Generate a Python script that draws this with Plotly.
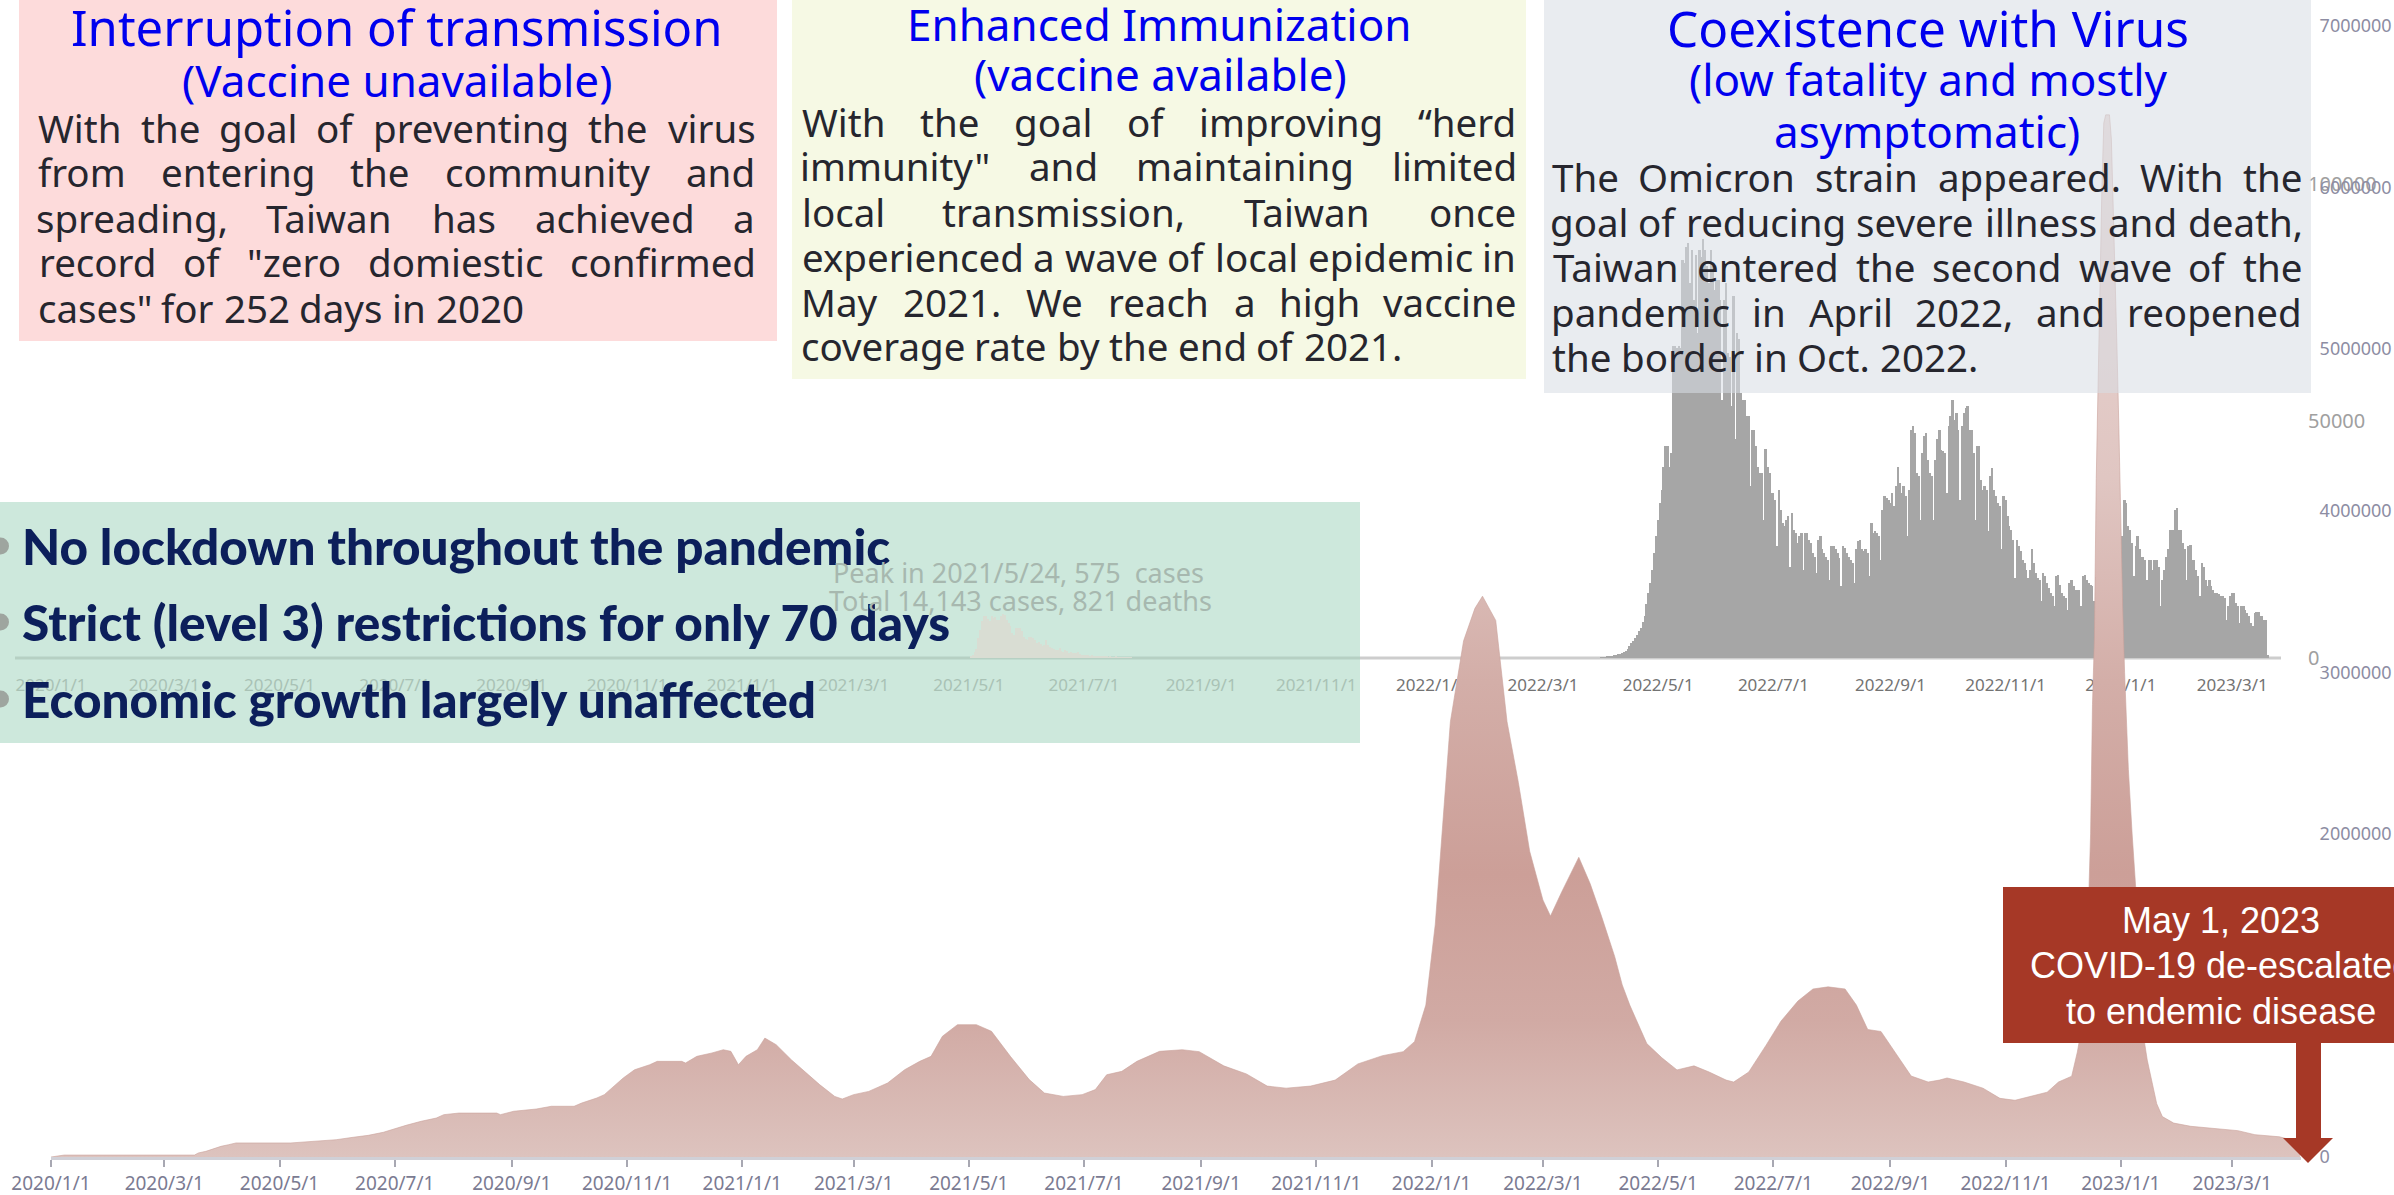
import pandas as pd
import plotly.graph_objects as go

# page geometry (pixels) -> paper coordinates for the decorations
FIG_W, FIG_H = 2394, 1195
M_L, M_R, M_T, M_B = 15, 93, 26, 38
PLOT_W = FIG_W - M_L - M_R
PLOT_H = FIG_H - M_T - M_B


def px_x(x):
    return (x - M_L) / PLOT_W


def px_y(y):
    return (FIG_H - M_B - y) / PLOT_H


# ---------------- data ----------------
# global new cases (7-day average, millions), days after 2020-01-01
global_day = [0, 7, 76, 78, 82, 86, 90, 94, 98, 127, 139, 151, 160, 168, 176, 182, 188, 196, 204, 208,
              216, 236, 238, 245, 250, 257, 265, 277, 281, 289, 293, 297, 303, 309, 317, 321, 334, 336,
              342, 350, 356, 360, 364, 368, 374, 378, 384, 392, 401, 407, 415, 419, 425, 433, 443, 452,
              460, 466, 472, 480, 490, 498, 508, 518, 526, 536, 546, 553, 559, 567, 575, 587, 599, 608,
              621, 633, 644, 654, 667, 680, 692, 705, 716, 722, 728, 733, 737, 741, 748, 754, 758, 765,
              771, 777, 783, 790, 794, 800, 809, 815, 821, 828, 832, 836, 845, 853, 861, 870, 878, 887,
              891, 899, 908, 916, 925, 933, 941, 950, 956, 962, 969, 977, 985, 994, 1000, 1004, 1013,
              1023, 1032, 1040, 1049, 1057, 1063, 1070, 1073, 1076, 1078, 1080, 1081, 1082, 1083, 1084,
              1085, 1086, 1087, 1088, 1090, 1091, 1092, 1093, 1094, 1095, 1096, 1097, 1098, 1100, 1102,
              1104, 1106, 1108, 1110, 1112, 1115, 1118, 1124, 1133, 1146, 1158, 1167, 1180, 1188, 1191]
global_cases_m = [0.0, 0.012, 0.012, 0.025, 0.035, 0.05, 0.066, 0.076, 0.087, 0.087, 0.097, 0.107, 0.122,
                  0.134, 0.153, 0.175, 0.196, 0.221, 0.241, 0.262, 0.272, 0.272, 0.262, 0.283, 0.287,
                  0.297, 0.314, 0.314, 0.334, 0.365, 0.386, 0.427, 0.489, 0.540, 0.571, 0.592, 0.592,
                  0.582, 0.623, 0.644, 0.664, 0.654, 0.571, 0.623, 0.664, 0.736, 0.695, 0.602, 0.509,
                  0.448, 0.375, 0.359, 0.386, 0.406, 0.458, 0.540, 0.592, 0.623, 0.747, 0.819, 0.819,
                  0.778, 0.623, 0.479, 0.396, 0.375, 0.386, 0.417, 0.509, 0.530, 0.592, 0.654, 0.664,
                  0.652, 0.564, 0.514, 0.439, 0.426, 0.439, 0.476, 0.576, 0.627, 0.652, 0.714, 0.940,
                  1.441, 2.068, 2.694, 3.195, 3.396, 3.471, 3.321, 2.694, 2.318, 1.892, 1.591, 1.491,
                  1.642, 1.855, 1.692, 1.491, 1.241, 1.065, 0.940, 0.702, 0.614, 0.539, 0.564, 0.526,
                  0.476, 0.464, 0.526, 0.689, 0.840, 0.965, 1.040, 1.053, 1.040, 0.940, 0.789, 0.777,
                  0.639, 0.501, 0.464, 0.476, 0.489, 0.464, 0.426, 0.363, 0.351, 0.376, 0.401, 0.464,
                  0.50, 0.65, 0.85, 1.2, 2.0, 2.8, 3.2, 4.2, 4.9, 5.4, 6.0, 6.4, 6.45, 6.45, 6.3, 5.9,
                  5.4, 5.0, 4.5, 3.9, 3.4, 3.0, 2.4, 2.0, 1.65, 1.2, 0.75, 0.6, 0.5, 0.33, 0.25, 0.21,
                  0.19, 0.175, 0.163, 0.138, 0.125, 0.10, 0.09]

# Taiwan daily confirmed cases (thousands), one value per day from tw_start
tw_start = "2022-04-01"
tw_cases_k = [
    0.1, 0.15, 0.2, 0.25, 0.3, 0.35, 0.45,
    0.55, 0.7, 0.8, 0.9, 1.05, 1.2, 1.4,
    1.8, 2.5, 3.2, 3.5, 4.2, 4.9, 5.6,
    6.3, 7.7, 8.8, 11.3, 13.7, 15.8, 18.6,
    22.2, 25.7, 29.2, 32.7, 35.5, 40.4, 44.7,
    44.7, 40.4, 43.2, 65.8, 65.8, 65.4, 65.8,
    65.4, 84.0, 83.3, 86.8, 87.6, 79.1, 86.1,
    75.6, 85.0, 68.6, 86.1, 84.7, 88.3, 86.1,
    82.6, 79.1, 86.1, 82.6, 77.7, 79.8, 79.8,
    75.6, 54.5, 75.6, 79.1, 64.3, 63.6, 53.1,
    76.3, 46.1, 68.6, 67.2, 55.9, 54.5, 54.5,
    51.0, 51.0, 36.2, 48.2, 48.2, 44.7, 40.4,
    39.0, 39.0, 29.2, 44.0, 40.4, 39.0, 34.8,
    34.8, 33.4, 23.6, 35.5, 31.3, 28.5, 27.8,
    29.2, 29.9, 19.3, 30.6, 27.1, 26.4, 24.3,
    25.7, 26.4, 18.6, 26.4, 26.4, 25.0, 24.3,
    22.2, 21.4, 17.9, 25.0, 25.7, 22.9, 22.2,
    21.4, 20.7, 16.5, 23.6, 23.6, 22.9, 22.2,
    21.1, 15.1, 23.6, 23.2, 22.2, 21.4, 20.7,
    20.0, 15.8, 22.9, 24.6, 25.0, 22.9, 22.5,
    22.9, 22.2, 17.2, 28.5, 26.4, 26.7, 26.4,
    25.7, 20.7, 31.3, 34.1, 33.8, 33.4, 32.7,
    34.8, 32.0, 36.2, 40.4, 36.9, 34.8, 36.2,
    34.1, 25.7, 35.5, 48.2, 48.9, 47.5, 39.0,
    38.3, 29.2, 43.2, 46.8, 47.5, 41.8, 39.0,
    38.3, 29.2, 41.8, 46.1, 48.2, 43.9, 43.6,
    43.2, 34.8, 48.9, 51.0, 54.5, 50.3, 51.7,
    48.2, 33.4, 48.9, 51.7, 52.7, 53.1, 48.2,
    48.2, 43.2, 29.2, 44.7, 44.7, 37.6, 35.5,
    36.2, 35.5, 26.7, 38.3, 40.1, 35.5, 34.1,
    32.7, 32.0, 22.9, 34.1, 33.4, 29.9, 27.8,
    27.1, 25.0, 16.9, 25.0, 23.6, 22.5, 20.7,
    20.0, 18.6, 16.9, 18.6, 22.9, 20.0, 17.9,
    16.9, 16.5, 12.0, 17.9, 17.2, 15.8, 14.8,
    13.7, 13.0, 10.9, 17.2, 17.6, 15.5, 13.7,
    13.0, 12.7, 10.2, 15.8, 16.5, 15.1, 14.4,
    14.4, 14.4, 10.9, 17.2, 17.6, 16.5, 15.8,
    15.5, 15.1, 12.0, 17.0, 17.5, 18.0, 18.5,
    18.5, 19.0, 13.0, 19.0, 20.0, 20.5, 21.0,
    21.5, 22.0, 24.3, 25.7, 33.4, 32.7, 27.8,
    27.1, 24.3, 17.2, 23.6, 25.7, 22.9, 21.4,
    21.4, 20.7, 16.5, 20.7, 20.7, 18.6, 20.7,
    20.7, 19.3, 10.9, 16.5, 18.6, 21.4, 22.9,
    27.1, 27.1, 27.1, 31.3, 31.6, 27.1, 27.1,
    24.3, 22.9, 16.5, 23.6, 23.9, 20.7, 20.7,
    18.6, 17.2, 13.0, 20.0, 19.3, 16.5, 15.1,
    16.5, 15.1, 14.4, 13.7, 13.7, 13.4, 13.0,
    13.0, 12.7, 8.1, 10.9, 13.0, 13.7, 13.7,
    11.6, 10.9, 7.4, 10.9, 10.9, 10.2, 9.5,
    8.8, 7.4, 6.7, 9.5, 9.8, 9.8, 8.8,
    8.8, 8.1, 8.1, 0.7,
]

# Taiwan 2021 local wave (daily cases, small inset drawn on its own scale)
wave21_start = "2021-05-02"
wave21_cases = [20, 45, 85, 120, 260, 370, 480, 545, 545, 515, 490, 545, 525, 530, 500, 500, 545, 575,
                560, 500, 460, 415, 325, 305, 390, 390, 390, 350, 270, 255, 240, 270, 270, 260, 240,
                195, 210, 185, 155, 175, 240, 175, 140, 130, 120, 110, 110, 130, 95, 85, 110, 95, 65,
                80, 65, 60, 65, 80, 50, 35, 45, 35, 35, 25, 35, 25, 22, 30, 22, 18, 22, 18, 18, 13, 18,
                13, 13, 18, 9, 8, 10, 6, 8, 5, 7, 4]

tick_labels = ["2020/1/1", "2020/3/1", "2020/5/1", "2020/7/1", "2020/9/1", "2020/11/1",
               "2021/1/1", "2021/3/1", "2021/5/1", "2021/7/1", "2021/9/1", "2021/11/1",
               "2022/1/1", "2022/3/1", "2022/5/1", "2022/7/1", "2022/9/1", "2022/11/1",
               "2023/1/1", "2023/3/1"]
global_y_ticks = [0, 1000000, 2000000, 3000000, 4000000, 5000000, 6000000, 7000000]
tw_y_ticks = [0, 50000, 100000]

# ---------------- text ----------------
box1_title = "Interruption of transmission"
box1_sub = "(Vaccine unavailable)"
box1_lines = ["With the goal of preventing the virus",
              "from entering the community and",
              "spreading, Taiwan has achieved a",
              "record of \"zero domiestic confirmed",
              "cases\" for 252 days in 2020"]
box2_title = "Enhanced Immunization"
box2_sub = "(vaccine available)"
box2_lines = ["With the goal of improving “herd",
              "immunity\" and maintaining limited",
              "local transmission, Taiwan once",
              "experienced a wave of local epidemic in",
              "May 2021. We reach a high vaccine",
              "coverage rate by the end of 2021."]
box3_title = "Coexistence with Virus"
box3_sub = ["(low fatality and mostly", "asymptomatic)"]
box3_lines = ["The Omicron strain appeared. With the",
              "goal of reducing severe illness and death,",
              "Taiwan entered the second wave of the",
              "pandemic in April 2022, and reopened",
              "the border in Oct. 2022."]
bullets = ["No lockdown throughout the pandemic",
           "Strict (level 3) restrictions for only 70 days",
           "Economic growth largely unaffected"]
peak_note = ["Peak in 2021/5/24, 575  cases", "Total 14,143 cases, 821 deaths"]
endemic_note = ["May 1, 2023", "COVID-19 de-escalated", "to endemic disease"]

TITLE_BLUE = "#0000ee"
BODY = "#26262e"
NAVY = "#0c1f5b"
RED = "#a63826"

# rough advance widths (em) of Noto Sans, used to justify the paragraphs
CHAR_W = {" ": 0.26, "a": 0.556, "b": 0.613, "c": 0.476, "d": 0.613, "e": 0.561, "f": 0.339,
          "g": 0.548, "h": 0.614, "i": 0.253, "j": 0.253, "k": 0.525, "l": 0.253, "m": 0.930,
          "n": 0.614, "o": 0.604, "p": 0.613, "q": 0.613, "r": 0.408, "s": 0.477, "t": 0.353,
          "u": 0.614, "v": 0.501, "w": 0.778, "x": 0.524, "y": 0.502, "z": 0.462,
          "A": 0.633, "C": 0.631, "M": 0.903, "O": 0.781, "T": 0.544, "W": 0.911,
          ",": 0.245, ".": 0.266, '"': 0.401, "“": 0.344, "(": 0.296, ")": 0.296}


def text_w(s, size):
    return sum(0.572 if c.isdigit() else CHAR_W.get(c, 0.56) for c in s) * size


# ---------------- figure ----------------
tw_dates = pd.date_range(tw_start, periods=len(tw_cases_k), freq="D")
w21_dates = pd.date_range(wave21_start, periods=len(wave21_cases), freq="D")
g_dates = pd.Timestamp("2020-01-01") + pd.to_timedelta(global_day, unit="D")
tick_vals = pd.to_datetime(tick_labels, format="%Y/%m/%d")

fig = go.Figure()

fig.add_trace(go.Bar(x=tw_dates, y=[v * 1000 for v in tw_cases_k], xaxis="x", yaxis="y",
                     marker=dict(color="#a6a6a6", line=dict(width=0)), hoverinfo="skip"))
fig.add_trace(go.Bar(x=w21_dates, y=wave21_cases, xaxis="x", yaxis="y3", width=0.55 * 86400000,
                     marker=dict(color="#d9ddd3", line=dict(width=0)), hoverinfo="skip"))
fig.add_trace(go.Scatter(x=g_dates, y=[v * 1e6 for v in global_cases_m], xaxis="x2", yaxis="y2",
                         mode="lines", line=dict(width=0.6, color="#c9a19b"), fill="tozeroy",
                         fillgradient=dict(type="vertical", start=0, stop=7e6,
                                           colorscale=[[0, "#ddc3be"], [0.12, "#d1aaa4"], [0.25, "#cc9f98"],
                                                       [0.42, "#d3aea8"], [0.6, "#e0c6c2"], [1, "#ecdcd9"]]),
                         hoverinfo="skip"))

inner_ticktext = [t if t >= "2022" else f'<span style="color:#a9c2b5">{t}</span>' for t in tick_labels]

fig.update_layout(
    width=FIG_W, height=FIG_H,
    margin=dict(l=M_L, r=M_R, t=M_T, b=M_B),
    paper_bgcolor="white", plot_bgcolor="rgba(0,0,0,0)",
    showlegend=False, bargap=0, hovermode=False,
    font=dict(family="Noto Sans"),
    xaxis=dict(domain=[0, px_x(2281)], range=["2019-12-12 22:00", "2023-03-26 19:00"], anchor="y",
               showgrid=False, zeroline=False, showline=False, automargin=False,
               tickvals=tick_vals, ticktext=inner_ticktext, ticks="outside", ticklen=12,
               tickcolor="rgba(0,0,0,0)", tickfont=dict(size=17, color="#737373")),
    yaxis=dict(domain=[px_y(658), px_y(184)], range=[0, 100000], anchor="x", side="right",
               showgrid=False, zeroline=False, showline=False, automargin=False,
               tickvals=tw_y_ticks, ticktext=[str(v) for v in tw_y_ticks], ticks="outside", ticklen=22,
               tickcolor="rgba(0,0,0,0)", tickfont=dict(size=20, color="#a0a0a0")),
    yaxis3=dict(overlaying="y", anchor="x", range=[0, 6200], visible=False, automargin=False),
    xaxis2=dict(domain=[px_x(51), 1], range=["2020-01-01", "2023-04-06 10:00"], anchor="y2",
                showgrid=False, zeroline=False, showline=True, linecolor="#d0d0d7", linewidth=3,
                automargin=False,
                tickvals=tick_vals, ticktext=tick_labels, ticks="outside", ticklen=7, tickwidth=1.5,
                tickcolor="#a8a8b2", tickfont=dict(size=19, color="#7b7b92")),
    yaxis2=dict(domain=[0, 1], range=[0, 7000000], anchor="x2", side="right",
                showgrid=False, zeroline=False, showline=False, automargin=False,
                tickvals=global_y_ticks, ticktext=[str(v) for v in global_y_ticks], ticks="outside",
                ticklen=14, tickcolor="rgba(0,0,0,0)", tickfont=dict(size=18, color="#8d8da3")),
)


def add_box(x0, y0, x1, y1, color, layer="above"):
    fig.add_shape(type="rect", xref="paper", yref="paper", x0=px_x(x0), x1=px_x(x1),
                  y0=px_y(y1), y1=px_y(y0), fillcolor=color, line_width=0, layer=layer)


def add_text(x, y, text, size, color, family="Noto Sans", xanchor="center", weight=None):
    font = dict(size=size, color=color, family=family)
    if weight:
        font["weight"] = weight
    fig.add_annotation(x=px_x(x), y=px_y(y), xref="paper", yref="paper", text=text, showarrow=False,
                       xanchor=xanchor, yanchor="middle", font=font, borderpad=0)


def add_paragraph(lines, left, right, y0, size, gap_y=45):
    for i, line in enumerate(lines):
        words = line.split()
        widths = [text_w(w, size) for w in words]
        if i == len(lines) - 1:
            gap = text_w(" ", size)
        else:
            gap = (right - left - sum(widths)) / (len(words) - 1)
        x = left
        for w, wd in zip(words, widths):
            add_text(x + wd / 2, y0 + i * gap_y, w, size, BODY)
            x += wd + gap


# backgrounds
add_box(0, 502, 1360, 743, "#cde8dc", layer="below")
fig.add_shape(type="line", xref="paper", yref="paper", x0=px_x(15), x1=px_x(1360), y0=px_y(658),
              y1=px_y(658), line=dict(color="#b6d0c3", width=3), layer="below")
fig.add_shape(type="line", xref="paper", yref="paper", x0=px_x(1360), x1=px_x(2281), y0=px_y(658),
              y1=px_y(658), line=dict(color="#cdcdcd", width=3), layer="below")
add_box(19, -5, 777, 341, "#fddbdb")
add_box(792, -5, 1526, 379, "#f6f9e4")
add_box(1544, -5, 2311, 393, "rgba(216,221,228,0.56)")

# box 1
add_text(397, 27, box1_title, 49, TITLE_BLUE)
add_text(397, 80, box1_sub, 44, TITLE_BLUE)
add_paragraph(box1_lines, 38, 755, 127.5, 38.5)
# box 2
add_text(1159, 24, box2_title, 44, TITLE_BLUE)
add_text(1160, 74, box2_sub, 44, TITLE_BLUE)
add_paragraph(box2_lines, 802, 1516, 121.5, 38.5)
# box 3
add_text(1928, 28, box3_title, 49.5, TITLE_BLUE)
add_text(1928, 79, box3_sub[0], 44, TITLE_BLUE)
add_text(1927, 131, box3_sub[1], 44, TITLE_BLUE)
add_paragraph(box3_lines, 1552, 2302, 177, 38.5)

# green box bullets
for cy, line in zip([546, 622, 699], bullets):
    fig.add_shape(type="circle", xref="paper", yref="paper", x0=px_x(-8), x1=px_x(9),
                  y0=px_y(cy + 8.5), y1=px_y(cy - 8.5), fillcolor="#9ea59f", line_width=0, layer="above")
    add_text(21, cy, line, 49.5, NAVY, family="Lato", xanchor="left", weight=900)

add_text(1018, 572, peak_note[0], 27, "#a7b8af")
add_text(1020, 600, peak_note[1], 27, "#a7b8af")

# endemic callout with arrow
add_box(2003, 887, 2420, 1043, RED)
add_box(2296, 1042, 2321, 1139, RED)
fig.add_shape(type="path", xref="paper", yref="paper", fillcolor=RED, line_width=0, layer="above",
              path=f"M {px_x(2283)},{px_y(1138)} L {px_x(2333)},{px_y(1138)} L {px_x(2308)},{px_y(1163)} Z")
for cy, line in zip([920, 966, 1011], endemic_note):
    add_text(2221, cy, line, 36, "white", family="Liberation Sans")

# the page's default body margin would push the figure 8px off the window
fig.write_html("out.html", config={"displayModeBar": False},
               post_script="document.body.style.margin = '0px';")
